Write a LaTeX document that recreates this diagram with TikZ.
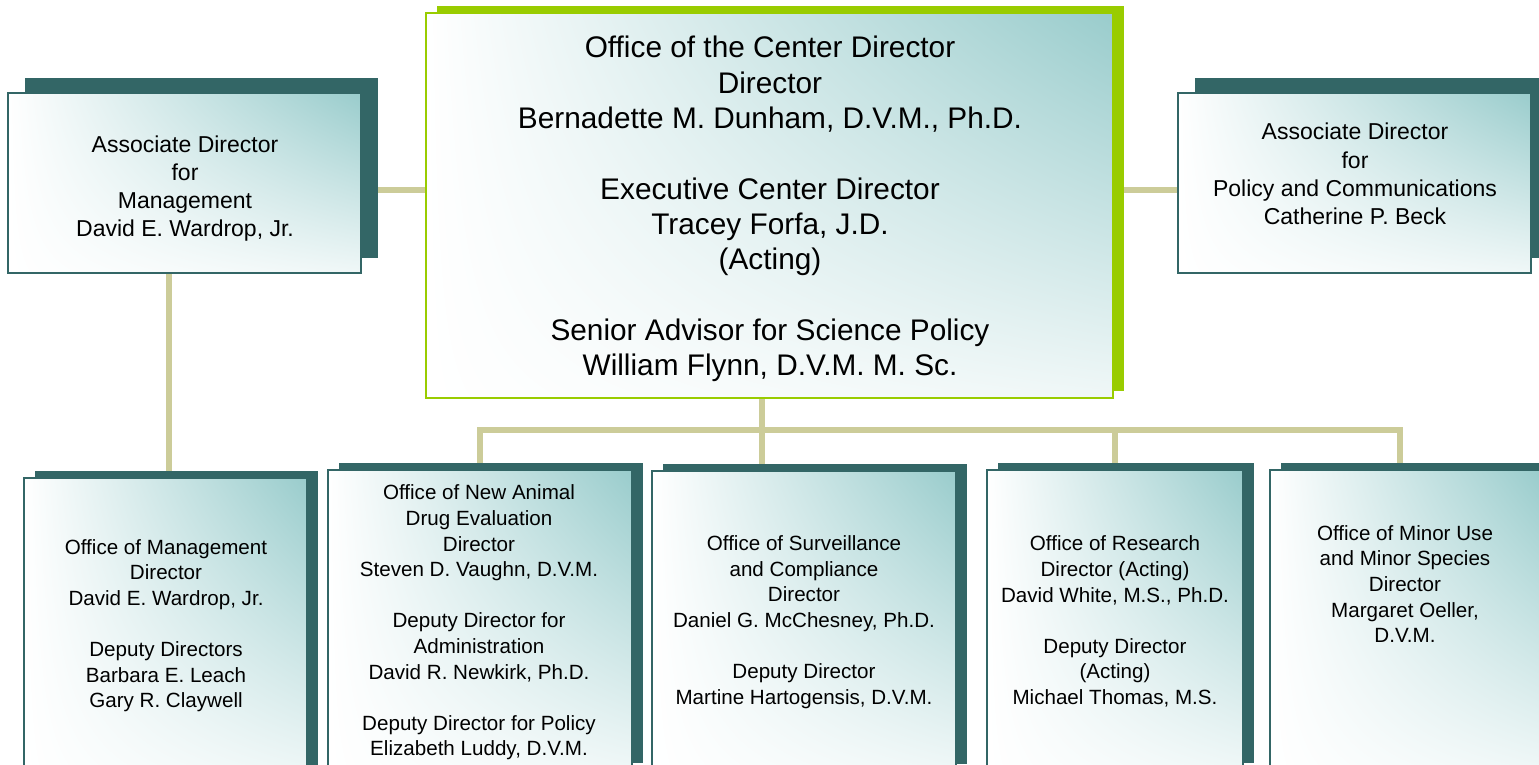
\documentclass[tikz,border=0pt]{standalone}
\usepackage{fontspec}
\setmainfont{Liberation Sans}
\usetikzlibrary{positioning,shadows,shadings,backgrounds}
\definecolor{shadowteal}{HTML}{336666}
\definecolor{boxteal}{HTML}{99CCCC}
\definecolor{linkkhaki}{HTML}{CCCC99}
\definecolor{leafgreen}{HTML}{99CC00}
\tikzset{
  orgbox/.style={draw=shadowteal,line width=1.5pt,inner sep=0pt,
    upper right=boxteal,upper left=white,lower left=white,lower right=boxteal!15!white},
  topbox/.style={orgbox,minimum width=353pt,minimum height=180pt,
    drop shadow={shadow xshift=17pt,shadow yshift=15pt,fill=shadowteal,opacity=1}},
  lowbox/.style={orgbox,anchor=north,minimum height=300pt,
    drop shadow={shadow xshift=11pt,shadow yshift=7pt,fill=shadowteal,opacity=1}},
  headbox/.style={orgbox,draw=leafgreen,minimum width=687pt,minimum height=385pt,
    drop shadow={shadow xshift=11pt,shadow yshift=7pt,fill=leafgreen,opacity=1}},
  sidetxt/.style={align=center,font=\fontsize{23}{28.3}\selectfont},
  headtxt/.style={align=center,font=\fontsize{29.8}{35.3}\selectfont},
  lowtxt/.style={align=center,font=\fontsize{20.6}{25.6}\selectfont},
  link/.style={draw=linkkhaki,line width=6pt}
}

\begin{document}
\begin{tikzpicture}[x=1pt,y=-1pt]
\useasboundingbox (0,0) rectangle (1539,764);
\clip (0,0) rectangle (1539,764);

% top row
\node[headbox] (ocd) at (769.5,205.5) {};
\node[topbox] (adm) at (184.5,183) {};
\node[topbox] (adpc) at (1354.5,183) {};

% offices
\node[lowbox,minimum width=283pt] (om) at (165.5,477) {};
\node[lowbox,minimum width=304pt] (onade) at (480,469) {};
\node[lowbox,minimum width=304pt] (osc) at (804,470) {};
\node[lowbox,minimum width=256pt] (ores) at (1115,469) {};
\node[lowbox,minimum width=270pt] (omums) at (1405,469) {};

% texts
\node[headtxt] (ocd-t) at (770,209) {Office of the Center Director\\Director\\Bernadette M. Dunham, D.V.M., Ph.D.\\[35.3pt]Executive Center Director\\Tracey Forfa, J.D.\\(Acting)\\[35.3pt]Senior Advisor for Science Policy\\William Flynn, D.V.M. M. Sc.};
\node[sidetxt] (adm-t) at (185,188.5) {Associate Director\\for\\Management\\David E. Wardrop, Jr.};
\node[sidetxt] (adpc-t) at (1355,174) {Associate Director\\for\\Policy and Communications\\Catherine P. Beck};
\node[lowtxt] (om-t) at (166,625.5) {Office of Management\\Director\\David E. Wardrop, Jr.\\[25.6pt]Deputy Directors\\Barbara E. Leach\\Gary R. Claywell};
\node[lowtxt] (onade-t) at (479,622.5) {Office of New Animal\\Drug Evaluation\\Director\\Steven D. Vaughn, D.V.M.\\[25.6pt]Deputy Director for\\Administration\\David R. Newkirk, Ph.D.\\[25.6pt]Deputy Director for Policy\\Elizabeth Luddy, D.V.M.};
\node[lowtxt] (osc-t) at (804,622) {Office of Surveillance\\and Compliance\\Director\\Daniel G. McChesney, Ph.D.\\[25.6pt]Deputy Director\\Martine Hartogensis, D.V.M.};
\node[lowtxt] (ores-t) at (1115,621.5) {Office of Research\\Director (Acting)\\David White, M.S., Ph.D.\\[25.6pt]Deputy Director\\(Acting)\\Michael Thomas, M.S.};
\node[lowtxt] (omums-t) at (1405,584) {Office of Minor Use\\and Minor Species\\Director\\Margaret Oeller,\\D.V.M.};

% connectors behind the boxes
\coordinate (bus) at (762,430);
\begin{scope}[on background layer]
\draw[link] ([yshift=-7pt]adm.east) -- ([yshift=-7pt]adm.east -| ocd.west);
\draw[link] ([yshift=-7pt]adpc.west -| ocd.east) -- ([yshift=-7pt]adpc.west);
\draw[link] ([xshift=-15.5pt]adm.south) -- ([xshift=-15.5pt]adm.south |- om.north);
\draw[link] ([xshift=-7.5pt]ocd.south) -- (bus);
\draw[link] (onade.north) |- (bus) -| ([xshift=-5pt]omums.north);
\draw[link] (bus) -- (bus |- osc.north);
\draw[link] (ores.north |- bus) -- (ores.north);
\end{scope}
\end{tikzpicture}
\end{document}
